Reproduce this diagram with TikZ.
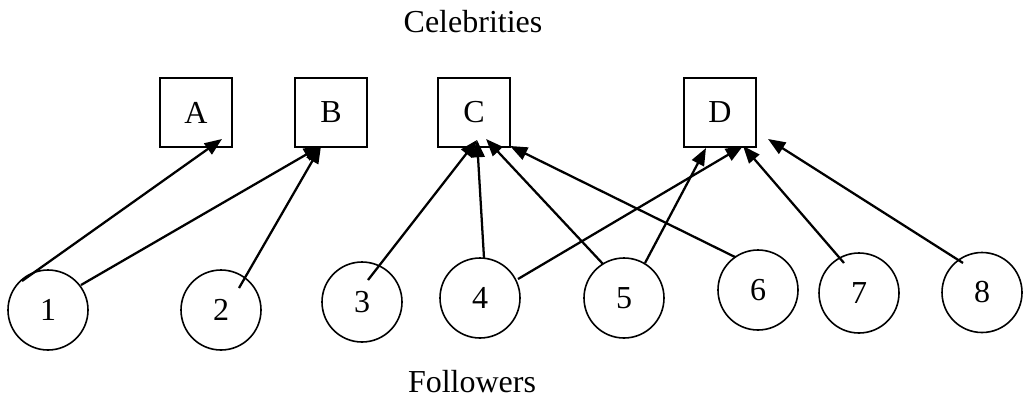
\documentclass[tikz,border=0pt]{standalone}
\usepackage{fontspec}
\setmainfont{Liberation Serif}
\usetikzlibrary{arrows.meta,calc}

\begin{document}
\begin{tikzpicture}[x=0.75pt,y=-0.75pt,
        font=\fontsize{24}{28}\selectfont,
        celeb/.style={draw,line width=1.2pt,minimum width=54pt,minimum height=52pt,inner sep=0pt},
        follower/.style={draw,circle,line width=1.2pt,minimum size=60pt,inner sep=0pt},
        follows/.style={-{Triangle[length=13pt,width=10pt]},line width=1.7pt}]
            \useasboundingbox (0,0) rectangle (1023,397);
            % Titles
            \node[anchor=base] (celebs) at (473,32) {Celebrities};
            \node[anchor=base] (fols) at (472,392) {Followers};
            % Celebrities
            \node[celeb] (A) at (196,112.5) {A};
            \node[celeb] (B) at (331,112.5) {B};
            \node[celeb] (C) at (474,112.5) {C};
            \node[celeb] (D) at (720,112.5) {D};
            % Followers
            \node[follower] (f1) at (48,310) {1};
            \node[follower] (f2) at (221,310) {2};
            \node[follower] (f3) at (362,302) {3};
            \node[follower] (f4) at (480,298) {4};
            \node[follower] (f5) at (624,298) {5};
            \node[follower] (f6) at (758,290) {6};
            \node[follower] (f7) at (859,293) {7};
            \node[follower] (f8) at (982,292.5) {8};
            % who follows whom
            \draw[follows] ($(f1)+(-26,-29)$) -- ($(A.south)+(26,-9)$);
            \draw[follows] ($(f1)+(33,-25)$) -- ($(B.south)+(-10,-2)$);
            \draw[follows] ($(f2)+(18,-22)$) -- ($(B.south)+(-10,-2)$);
            \draw[follows] ($(f3)+(6,-22)$) -- ($(C.south)+(3,-8)$);
            \draw[follows] ($(f4)+(4,-40)$) -- ($(C.south)+(3,-8)$);
            \draw[follows] ($(f5)+(-21,-34)$) -- ($(C.south)+(12,-9)$);
            \draw[follows] ($(f6)+(-23,-33)$) -- ($(C.south)+(36,-2)$);
            \draw[follows] ($(f4)+(38,-19)$) -- ($(D.south)+(23,-2)$);
            \draw[follows] ($(f5)+(21,-35)$) -- ($(D.south)+(-14,0)$);
            \draw[follows] ($(f7)+(-15,-30)$) -- ($(D.south)+(23,-2)$);
            \draw[follows] ($(f8)+(-19,-29.5)$) -- ($(D.south)+(48,-9)$);
           \end{tikzpicture}
\end{document}
